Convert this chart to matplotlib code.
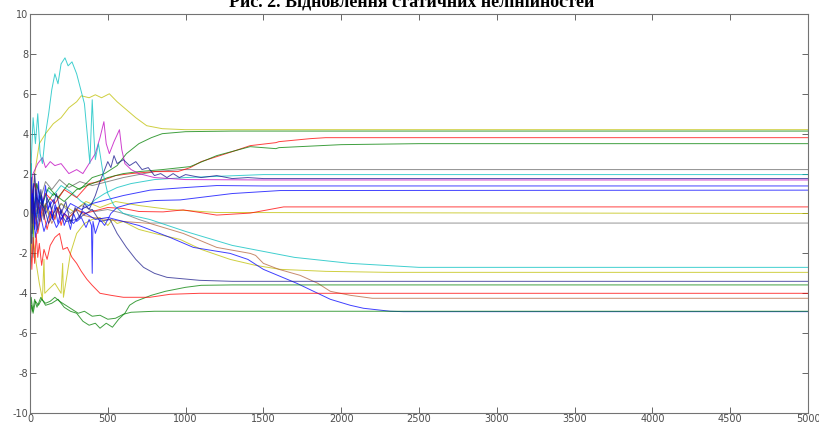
import matplotlib
matplotlib.use("Agg")
import matplotlib.pyplot as plt

plt.rcParams["axes.unicode_minus"] = False

# estimates of each trace, (x, y) waypoints
cyan_peak = [(0, 0.0), (10, 3.0), (20, 4.8), (35, 3.5), (50, 5.0), (65, 3.0), (80, 2.5),
             (100, 4.0), (120, 5.0), (140, 6.2), (160, 7.0), (180, 6.5), (200, 7.5),
             (225, 7.8), (245, 7.4), (270, 7.6), (300, 7.0), (320, 6.4), (350, 5.5),
             (370, 3.8), (385, 2.5), (400, 5.7), (410, 4.0), (420, 2.7), (440, 3.5),
             (470, 2.0), (500, 1.0), (540, 0.4), (600, 0.0), (770, -0.3), (1000, -0.9),
             (1300, -1.6), (1700, -2.2), (2058, -2.5), (2500, -2.7), (5000, -2.7)]
cyan_edge = [(0, 4.0), (4, 1.0), (8, 2.5), (12, -1.0), (16, 0.8), (20, -2.2), (26, -0.5),
             (34, 0.6), (45, -0.2), (60, 1.0), (80, 0.4), (110, 1.2), (150, 0.9),
             (200, 1.4), (260, 1.1), (330, 0.6), (380, 0.4), (420, 0.7), (480, 1.0),
             (560, 1.3), (650, 1.5), (800, 1.7), (1000, 1.8), (1500, 1.95), (5000, 1.95)]
yellow_top = [(0, 2.3), (15, 0.5), (30, 2.0), (60, 3.5), (100, 4.0), (150, 4.5), (200, 4.8),
              (250, 5.3), (300, 5.6), (330, 5.9), (380, 5.8), (420, 5.95), (460, 5.8),
              (510, 6.0), (560, 5.6), (620, 5.2), (680, 4.8), (750, 4.4), (850, 4.25),
              (1000, 4.2), (5000, 4.2)]
green_top = [(0, 1.0), (20, -1.0), (40, 1.5), (80, 0.5), (120, 1.3), (180, 0.8), (250, 1.5),
             (320, 1.2), (400, 1.8), (480, 2.0), (560, 2.4), (620, 3.0), (700, 3.5),
             (780, 3.8), (850, 4.0), (1000, 4.1), (1300, 4.13), (5000, 4.13)]
red_38 = [(0, 0.5), (30, 1.5), (60, 0.2), (100, 1.0), (160, 0.5), (220, 1.2), (300, 0.8),
          (380, 1.5), (450, 1.6), (550, 1.9), (650, 2.0), (800, 2.1), (950, 2.1),
          (1030, 2.3), (1100, 2.6), (1200, 2.85), (1300, 3.1), (1415, 3.4), (1580, 3.55),
          (1600, 3.6), (1800, 3.75), (1900, 3.8), (5000, 3.8)]
green_35 = [(0, -0.5), (40, 0.8), (90, 0.3), (150, 1.0), (220, 0.6), (300, 1.2), (400, 1.5),
            (500, 1.8), (600, 2.0), (700, 2.1), (850, 2.2), (1030, 2.35), (1200, 2.9),
            (1415, 3.35), (1580, 3.25), (1600, 3.3), (2000, 3.45), (2500, 3.5), (5000, 3.5)]
gray_22 = [(0, 0.3), (10, 1.8), (25, 0.2), (45, 1.5), (70, 0.8), (100, 1.6), (140, 1.2),
           (190, 1.7), (250, 1.3), (320, 1.6), (400, 1.4), (500, 1.6), (600, 1.8),
           (800, 2.1), (965, 2.2), (5000, 2.2)]
blue_jag = [(0, 1.5), (15, -0.5), (30, 2.0), (50, 0.0), (70, 1.2), (90, -0.3), (110, 0.8),
            (140, 0.2), (170, 1.0), (200, 0.0), (230, 0.6), (260, -0.5), (290, 0.3),
            (320, -0.2), (350, 0.5), (380, 0.2), (420, 0.9), (450, 1.6), (470, 2.0),
            (500, 2.6), (520, 2.3), (540, 2.9), (560, 2.5), (600, 2.7), (640, 2.4),
            (680, 2.6), (720, 2.2), (760, 2.3), (800, 1.9), (840, 2.0), (880, 1.8),
            (920, 2.0), (960, 1.8), (1000, 1.95), (1100, 1.8), (1200, 1.9), (1300, 1.75),
            (1400, 1.8), (1500, 1.75), (5000, 1.75)]
purple = [(0, 1.0), (20, 2.0), (50, 2.5), (80, 2.8), (100, 2.3), (130, 2.6), (160, 2.4),
          (200, 2.5), (250, 2.0), (300, 2.2), (340, 2.0), (380, 2.5), (420, 3.0),
          (450, 3.8), (475, 4.6), (490, 3.5), (510, 3.0), (540, 3.6), (575, 4.2),
          (590, 3.2), (610, 2.5), (650, 2.2), (700, 2.0), (800, 1.8), (1000, 1.7),
          (1500, 1.68), (5000, 1.68)]
blue_13 = [(0, 0.5), (30, -0.8), (60, 0.9), (100, 0.0), (150, 0.7), (200, -0.3), (260, 0.5),
           (330, 0.2), (400, 0.5), (500, 0.7), (600, 0.9), (772, 1.17), (1000, 1.3),
           (1200, 1.4), (1500, 1.38), (5000, 1.38)]
blue_11 = [(0, 2.0), (5, -1.0), (10, 1.8), (15, 0.0), (22, 1.5), (30, -0.5), (38, 1.2),
           (45, 0.3), (55, 1.6), (65, -0.2), (75, 0.9), (85, 0.5), (100, 1.4), (115, 0.2),
           (130, 0.6), (145, -0.3), (160, 0.4), (180, -0.5), (200, 0.2), (220, -0.6),
           (240, -0.2), (260, -0.8), (280, 0.0), (300, -0.4), (330, -0.2), (360, -0.7),
           (380, -0.3), (395, -0.6), (400, -3.0), (405, -0.4), (420, -1.0), (450, -0.3),
           (480, -0.6), (520, 0.0), (560, 0.3), (650, 0.5), (800, 0.65), (965, 0.68),
           (1300, 1.0), (1608, 1.15), (5000, 1.17)]
red_03 = [(0, -0.5), (20, 0.8), (50, -1.0), (80, 0.3), (110, -0.8), (140, 0.2), (160, -0.3),
          (180, 0.3), (200, -0.6), (220, 0.0), (250, -0.2), (300, 0.2), (350, 0.0),
          (400, 0.1), (500, 0.3), (600, 0.25), (700, 0.1), (855, 0.08), (985, 0.18),
          (1200, -0.08), (1415, 0.02), (1630, 0.33), (2058, 0.33), (5000, 0.33)]
yellow_0 = [(0, -1.0), (15, 1.0), (40, -0.3), (80, 0.6), (130, -0.2), (200, 0.5), (280, 0.1),
            (360, 0.6), (450, 0.3), (550, 0.6), (700, 0.4), (900, 0.2), (1200, 0.05),
            (5000, 0.0)]
gray_m05 = [(0, 0.8), (12, -0.8), (30, 0.5), (60, -0.4), (100, 0.4), (150, -0.2), (200, 0.5),
            (260, 0.0), (330, 0.4), (420, 0.1), (500, 0.2), (600, 0.0), (700, -0.3),
            (772, -0.48), (5000, -0.48)]
yellow_m3 = [(0, 2.5), (8, -2.0), (15, 0.5), (25, -1.5), (40, -2.5), (60, -3.5), (80, -4.3),
             (90, -2.3), (95, -4.0), (120, -3.8), (160, -3.5), (200, -4.0), (210, -2.5),
             (215, -4.2), (240, -3.0), (260, -2.0), (300, -1.0), (350, -0.5), (400, -0.3),
             (450, -0.2), (500, -0.6), (530, -0.3), (560, -0.5), (600, -0.4), (700, -0.8),
             (800, -1.0), (965, -1.3), (1100, -1.8), (1286, -2.3), (1450, -2.6),
             (1608, -2.8), (1900, -2.9), (2300, -2.95), (5000, -2.95)]
blue_m34 = [(0, 0.8), (10, -1.5), (25, 0.5), (50, -0.8), (80, 0.6), (120, -0.5), (170, 0.3),
            (230, -0.4), (300, -0.3), (400, 0.2), (450, -0.4), (515, -0.3), (560, -1.0),
            (620, -1.7), (680, -2.3), (730, -2.7), (800, -3.0), (880, -3.2), (1090, -3.35),
            (1300, -3.4), (5000, -3.4)]
green_m35 = [(0, -5.5), (8, -4.2), (18, -4.9), (30, -4.3), (45, -4.7), (70, -4.2), (100, -4.6),
             (140, -4.5), (180, -4.3), (220, -4.7), (260, -4.9), (300, -5.0), (340, -5.4),
             (380, -5.6), (420, -5.5), (450, -5.75), (490, -5.5), (530, -5.7), (570, -5.3),
             (610, -5.0), (640, -4.6), (680, -4.4), (780, -4.1), (870, -3.9), (1000, -3.7),
             (1100, -3.6), (1300, -3.58), (5000, -3.58)]
green_m49 = [(0, -5.3), (10, -4.6), (20, -5.0), (35, -4.4), (55, -4.6), (75, -4.3), (100, -4.5),
             (130, -4.4), (160, -4.2), (190, -4.4), (230, -4.6), (270, -4.8), (310, -5.0),
             (350, -4.9), (400, -5.15), (450, -5.1), (500, -5.3), (550, -5.25), (600, -5.05),
             (650, -4.95), (800, -4.9), (5000, -4.9)]
red_m40 = [(0, 0.3), (5, -1.5), (12, -2.8), (20, -1.2), (30, -2.5), (40, -1.0), (50, -2.2),
           (60, -1.5), (75, -2.6), (90, -1.8), (110, -2.3), (130, -1.6), (160, -1.2),
           (190, -1.0), (212, -1.8), (240, -1.7), (270, -2.2), (300, -2.5), (330, -2.9),
           (366, -3.3), (400, -3.6), (450, -4.0), (520, -4.1), (600, -4.2), (770, -4.2),
           (900, -4.05), (1090, -4.0), (5000, -4.0)]
brown_m42 = [(0, -0.2), (10, 1.2), (25, -0.6), (45, 0.7), (70, -0.4), (100, 0.5), (140, -0.5),
             (190, 0.3), (240, -0.3), (300, 0.2), (350, -0.1), (400, -0.2), (500, -0.3),
             (600, -0.4), (772, -0.5), (985, -1.0), (1200, -1.7), (1415, -2.0),
             (1450, -2.1), (1500, -2.5), (1600, -2.8), (1736, -3.1), (1850, -3.5),
             (1930, -3.9), (2058, -4.1), (2200, -4.25), (5000, -4.25)]
blue_diag = [(0, -0.3), (15, 1.0), (35, -1.2), (60, 0.2), (90, -0.9), (130, 0.1), (170, -0.7),
             (220, 0.0), (280, -0.5), (340, 0.1), (420, -0.3), (500, -0.2), (600, -0.4),
             (700, -0.6), (900, -1.2), (1050, -1.7), (1286, -2.0), (1400, -2.3), (1500, -2.8),
             (1715, -3.5), (1930, -4.3), (2058, -4.6), (2143, -4.75), (2315, -4.9),
             (2400, -4.92), (5000, -4.92)]

traces = [
    (cyan_edge, "c"), (yellow_0, "y"), (gray_m05, "0.45"), (gray_22, "0.4"),
    (yellow_top, "y"), (green_top, "g"), (red_38, "r"), (green_35, "g"),
    (purple, "m"), (blue_13, "b"), (red_03, "r"), (yellow_m3, "y"),
    (brown_m42, "#b4643c"), (blue_diag, "b"), (green_m35, "g"), (green_m49, "g"),
    (red_m40, "r"), (blue_m34, "#1e1e8c"), (blue_11, "b"), (blue_jag, "#14148c"),
    (cyan_peak, "c"),
]

x_ticks = [0, 500, 1000, 1500, 2000, 2500, 3000, 3500, 4000, 4500, 5000]
y_ticks = [-10, -8, -6, -4, -2, 0, 2, 4, 6, 8, 10]

fig = plt.figure(figsize=(8.19, 4.23), dpi=100)
ax = fig.add_axes([0.0366, 0.0236, 0.95, 0.9434])

for pts, col in traces:
    xs = [p[0] for p in pts]
    ys = [p[1] for p in pts]
    ax.plot(xs, ys, color=col, lw=0.7, alpha=0.75)

ax.set_xlim(0, 5000)
ax.set_ylim(-10, 10)
ax.set_xticks(x_ticks)
ax.set_yticks(y_ticks)
ax.tick_params(direction="in", top=True, right=True, length=4, width=0.6,
               labelsize=7, colors="0.3", pad=1)
for s in ax.spines.values():
    s.set_color("0.45")
    s.set_linewidth(0.8)

fig.text(0.503, 0.985, "Рис. 2. Відновлення статичних нелінійностей",
         ha="center", va="baseline", fontsize=13, fontweight="bold",
         family="Liberation Serif")

fig.savefig("out.png", dpi=100)
